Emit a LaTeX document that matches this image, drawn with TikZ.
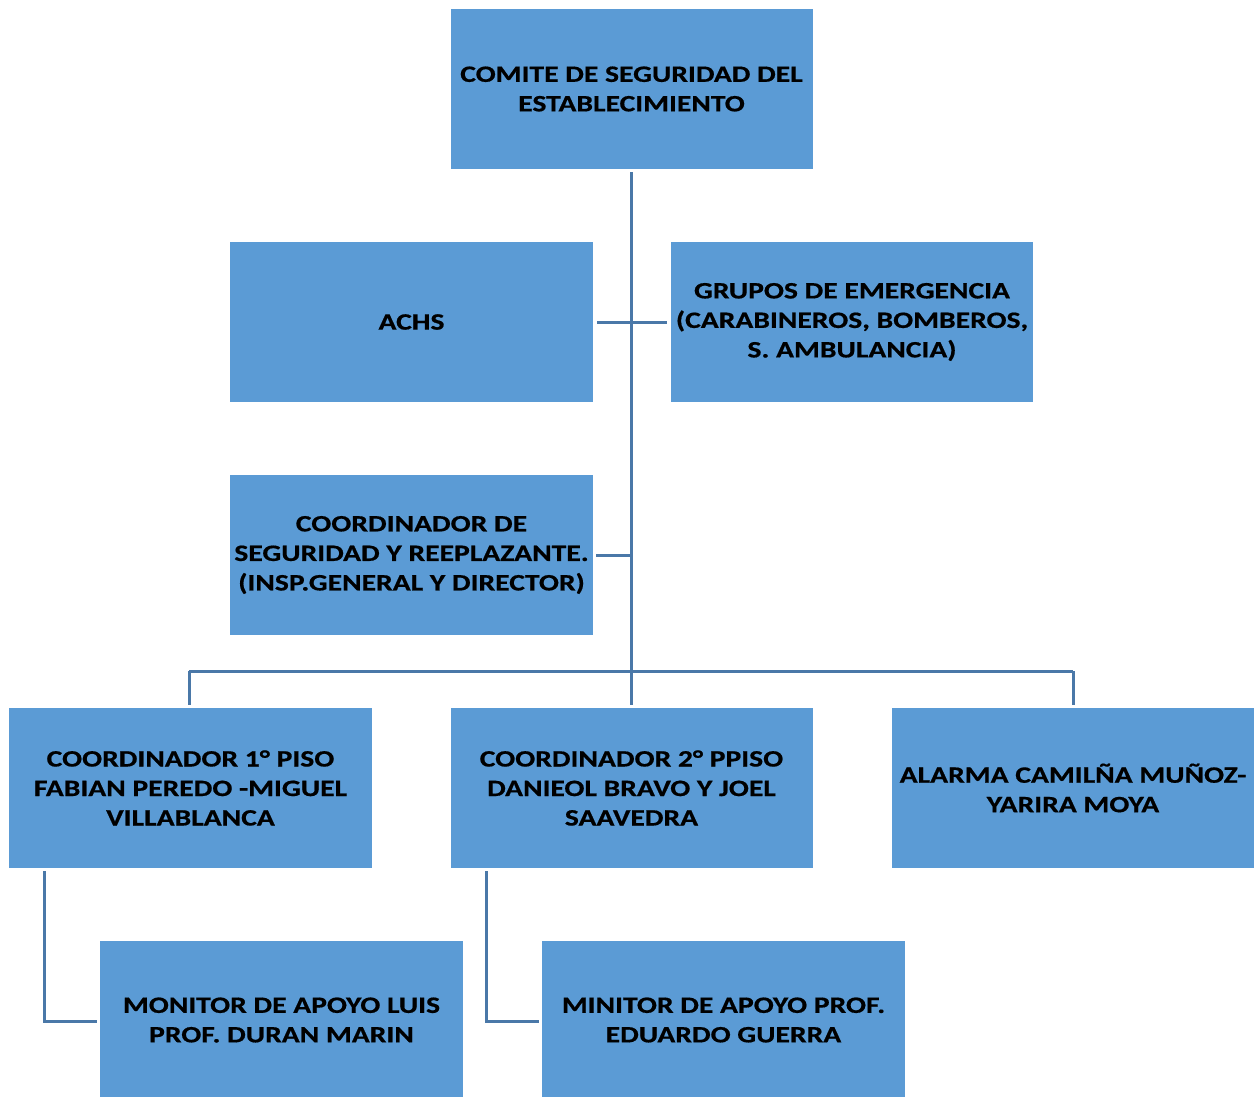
\documentclass[tikz,border=0pt]{standalone}
\usepackage{fontspec}
\setmainfont{Carlito}[FakeStretch=1.26,BoldFeatures={FakeStretch=1.26,FakeBold=0.6}]
\begin{document}
\begin{tikzpicture}[x=1pt,y=-1pt,
  box/.style={fill=boxblue,draw=none,minimum width=362pt,minimum height=160pt,
    align=center,inner sep=0pt,font=\bfseries\fontsize{23.5}{29.5}\selectfont,text=black},
  lbl/.style={align=center,inner sep=0pt,font=\bfseries\fontsize{23.5}{29.5}\selectfont,text=black},
  conn/.style={draw=lineblue,line width=3pt}]
\definecolor{boxblue}{HTML}{5B9BD5}
\definecolor{lineblue}{HTML}{4A78A8}
\useasboundingbox (0,0) rectangle (1256,1097);
\clip (0,0) rectangle (1256,1097);
\node[box] (top) at (631.5,89) {COMITE DE SEGURIDAD DEL\\ESTABLECIMIENTO};
\node[box,minimum width=363pt] (achs) at (411.5,322) {ACHS};
\node[box] (grupos) at (852,322) {GRUPOS DE EMERGENCIA\\(CARABINEROS, BOMBEROS,\\S. AMBULANCIA)};
\node[box,minimum width=363pt] (cseg) at (411.5,555) {COORDINADOR DE\\SEGURIDAD Y REEPLAZANTE.\\(INSP.GENERAL Y DIRECTOR)};
\node[box,minimum width=363pt] (c1) at (190.5,788) {COORDINADOR 1° PISO\\FABIAN PEREDO -MIGUEL\\VILLABLANCA};
\node[box] (c2) at (631.5,788) {COORDINADOR 2° PPISO\\DANIEOL BRAVO Y JOEL\\SAAVEDRA};
\node[box] (alarma) at (1073,788) {ALARMA CAMILÑA MUÑOZ-\\YARIRA MOYA};
\node[box,minimum width=363pt,minimum height=170pt] (m1) at (281.5,1026) {};
\node[lbl] (m1t) at (281.5,1020) {MONITOR DE APOYO LUIS\\PROF. DURAN MARIN};
\node[box,minimum width=363pt,minimum height=170pt] (m2) at (723.5,1026) {};
\node[lbl] (m2t) at (723.5,1020) {MINITOR DE APOYO PROF.\\EDUARDO GUERRA};
% connectors
\coordinate (bar) at (632,671);
\coordinate (barL) at (189,671);
\coordinate (barR) at (1073,671);
\draw[conn,shorten <=3pt,shorten >=3pt] (top.south) -- (c2.north);
\draw[conn,shorten <=4pt,shorten >=4pt] (achs.east) -- (grupos.west);
\draw[conn,shorten <=3pt] (cseg.east) -- (cseg.east -| bar);
\draw[conn] (barL) -- (barR);
\draw[conn,shorten >=3pt] (barL) -- (c1.north -| barL);
\draw[conn,shorten >=3pt] (barR) -- (alarma.north);
\coordinate (k1) at (44,1021);
\coordinate (k2) at (486,1021);
\draw[conn,shorten >=3pt] (44,871) |- (m1.west |- k1);
\draw[conn,shorten >=3pt] (486,871) |- (m2.west |- k2);
\end{tikzpicture}
\end{document}
